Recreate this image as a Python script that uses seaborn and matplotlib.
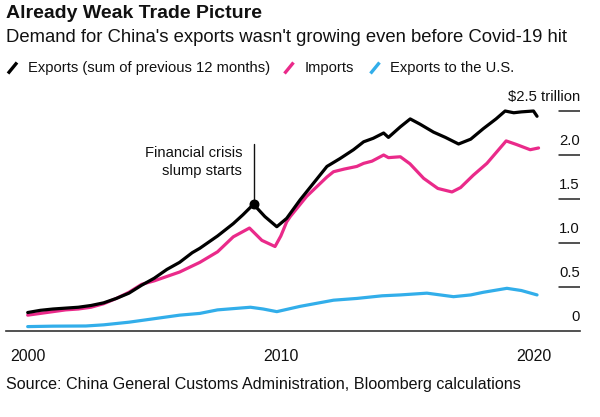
import numpy as np
import pandas as pd
import matplotlib
matplotlib.use("Agg")
import matplotlib.pyplot as plt
from matplotlib.lines import Line2D
import seaborn as sns

# --- data (trillion USD, 12-month rolling sums) ---
exp_year = [2000.0, 2000.5, 2001.0, 2001.5, 2002.0, 2002.5, 2003.0, 2003.5, 2004.0, 2004.5,
            2005.0, 2005.5, 2006.0, 2006.5, 2006.8, 2007.5, 2008.12, 2008.5, 2008.92, 2009.37,
            2009.84, 2010.23, 2010.76, 2011.29, 2011.82, 2012.34, 2012.87, 2013.27, 2013.65,
            2014.06, 2014.25, 2014.72, 2015.11, 2015.5, 2016.03, 2016.5, 2017.02, 2017.5,
            2018.0, 2018.5, 2018.86, 2019.2, 2019.5, 2019.98, 2020.12]
exp_val = [0.21, 0.235, 0.25, 0.26, 0.27, 0.29, 0.32, 0.37, 0.43, 0.52,
           0.60, 0.70, 0.78, 0.89, 0.94, 1.08, 1.22, 1.32, 1.44, 1.30,
           1.185, 1.28, 1.49, 1.68, 1.87, 1.96, 2.06, 2.15, 2.19,
           2.25, 2.20, 2.32, 2.41, 2.35, 2.26, 2.20, 2.125, 2.18,
           2.30, 2.41, 2.50, 2.48, 2.49, 2.50, 2.44]

imp_year = [2000.0, 2000.5, 2001.0, 2001.5, 2002.0, 2002.5, 2003.0, 2003.5, 2004.0, 2004.5,
            2005.0, 2005.5, 2006.0, 2006.8, 2007.5, 2008.12, 2008.76, 2009.25, 2009.77,
            2010.0, 2010.23, 2010.37, 2011.02, 2011.82, 2012.08, 2012.5, 2013.0, 2013.27,
            2013.6, 2014.06, 2014.25, 2014.72, 2015.1, 2015.64, 2016.2, 2016.76, 2017.1,
            2017.6, 2018.14, 2018.9, 2019.3, 2019.85, 2020.18]
imp_val = [0.18, 0.20, 0.22, 0.24, 0.25, 0.27, 0.31, 0.37, 0.44, 0.53,
           0.57, 0.62, 0.67, 0.78, 0.90, 1.07, 1.17, 1.03, 0.96,
           1.08, 1.24, 1.30, 1.53, 1.75, 1.81, 1.84, 1.87, 1.905,
           1.93, 2.00, 1.97, 1.98, 1.90, 1.735, 1.62, 1.58, 1.63,
           1.77, 1.905, 2.16, 2.12, 2.06, 2.08]

us_year = [2000.0, 2001.0, 2002.3, 2003.0, 2004.0, 2005.0, 2006.0, 2006.8, 2007.5, 2008.8,
           2009.3, 2009.84, 2010.3, 2010.76, 2012.08, 2013.0, 2014.0, 2014.72, 2015.77,
           2016.82, 2017.5, 2018.0, 2018.93, 2019.5, 2020.12]
us_val = [0.05, 0.055, 0.057, 0.07, 0.10, 0.14, 0.18, 0.20, 0.24, 0.27,
          0.25, 0.22, 0.25, 0.28, 0.35, 0.37, 0.40, 0.41, 0.43,
          0.39, 0.41, 0.44, 0.485, 0.46, 0.41]

series_names = ["Exports (sum of previous 12 months)", "Imports", "Exports to the U.S."]
series_colors = ["#000000", "#ea2a8a", "#32aeea"]

y_ticks = [0, 0.5, 1.0, 1.5, 2.0, 2.5]
y_labels = ["0", "0.5", "1.0", "1.5", "2.0", "$2.5 trillion"]
x_ticks = [2000, 2010, 2020]

crisis_year = 2008.92
crisis_val = 1.44

df = pd.concat([
    pd.DataFrame({"year": exp_year, "value": exp_val, "series": series_names[0]}),
    pd.DataFrame({"year": imp_year, "value": imp_val, "series": series_names[1]}),
    pd.DataFrame({"year": us_year, "value": us_val, "series": series_names[2]}),
])

sns.set_theme(style="white")
plt.rcParams["font.family"] = ["Liberation Sans", "DejaVu Sans"]
plt.rcParams["text.color"] = "#111111"

W, H = 600, 417
fig = plt.figure(figsize=(6, 4.17), dpi=100)
ax = fig.add_axes([6 / W, 1 - 331 / H, 574 / W, 242 / H])


def fx(px):
    return px / W


def fy(py):
    return 1 - py / H


sns.lineplot(data=df, x="year", y="value", hue="series", palette=dict(zip(series_names, series_colors)),
             hue_order=series_names[::-1], linewidth=2.3, legend=False, ax=ax, sort=True)

ax.set_xlim(1999.143, 2021.817)
ax.set_ylim(0, 2.75)
ax.set_xlabel("")
ax.set_ylabel("")
ax.set_yticks([])
ax.set_xticks(x_ticks)
ax.set_xticklabels([str(t) for t in x_ticks])
ax.tick_params(axis="x", direction="out", length=4, width=1, color="#333333",
               pad=9, labelsize=11.5, labelcolor="#111111")
for s in ["left", "right", "top"]:
    ax.spines[s].set_visible(False)
ax.spines["bottom"].set_color("#333333")
ax.spines["bottom"].set_linewidth(1.2)

# short right-hand gridlines with labels above
ytr = ax.get_yaxis_transform()
for v, lab in zip(y_ticks, y_labels):
    if v > 0:
        ax.axhline(v, xmin=(559 - 6) / 574, xmax=1, color="#222222", lw=1.1)
    ax.annotate(lab, xy=(1.0, v), xycoords=ytr, xytext=(0, 7.5), textcoords="offset points",
                ha="right", va="baseline", fontsize=10.7)

# financial crisis annotation
ax.plot([crisis_year, crisis_year], [crisis_val, 2.125], color="#111111", lw=1)
ax.scatter([crisis_year], [crisis_val], s=38, color="#000000", zorder=5)
ax.text(2008.47, 1.92, "Financial crisis\nslump starts", ha="right", va="center",
        fontsize=10.6, linespacing=1.35)

# titles
fig.text(fx(6), fy(13), "Already Weak Trade Picture", fontsize=14, fontweight="bold",
         ha="left", va="center")
fig.text(fx(6), fy(38), "Demand for China's exports wasn't growing even before Covid-19 hit",
         fontsize=13.3, ha="left", va="center")

# legend
leg_icon_x = [12.5, 289, 375]
leg_text_x = [28.5, 305, 390]
for cx, tx, name, col in zip(leg_icon_x, leg_text_x, series_names, series_colors):
    fig.add_artist(Line2D([fx(cx - 4.5), fx(cx + 4.5)], [fy(73.5), fy(62.5)], color=col, lw=2.4,
                          transform=fig.transFigure, solid_capstyle="butt"))
    fig.text(fx(tx), fy(68), name, fontsize=10.6, ha="left", va="center")

fig.text(fx(6), fy(384), "Source: China General Customs Administration, Bloomberg calculations",
         fontsize=11.6, ha="left", va="center")

fig.savefig("out.png", dpi=100)
